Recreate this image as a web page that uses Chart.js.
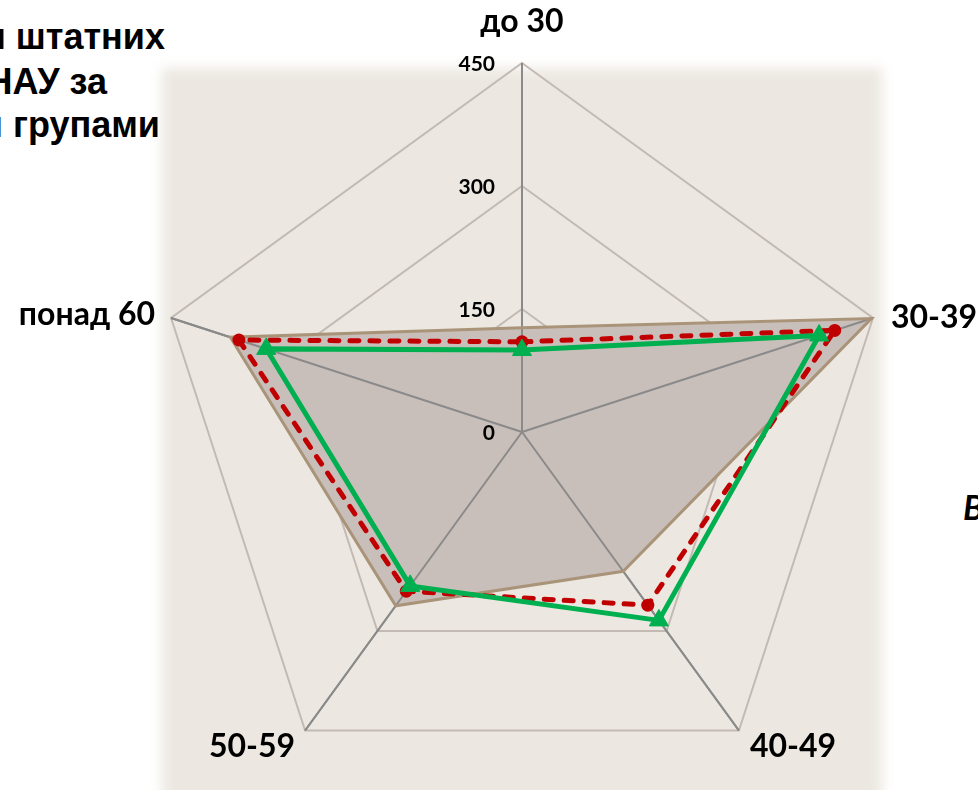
<!DOCTYPE html>
<html>
<head>
<meta charset="utf-8">
<script src="https://cdn.jsdelivr.net/npm/chart.js@4.4.0/dist/chart.umd.min.js"></script>
<style>
html, body { margin: 0; padding: 0; width: 978px; height: 790px; overflow: hidden; background: #fff; }
#panel { position: absolute; left: 162px; top: 68px; width: 720px; height: 770px; background: #ECE8E1; filter: blur(6px); }
#wrap { position: absolute; left: 0; top: 0; width: 978px; height: 820px; }
.title { position: absolute; font-family: "Liberation Sans", Arial, sans-serif; font-weight: bold; font-size: 36px; line-height: 44px; white-space: nowrap; color: #000; }
.side { position: absolute; left: 963px; top: 486px; font-family: Lato, sans-serif; font-weight: bold; font-style: italic; font-size: 34px; white-space: nowrap; }
</style>
</head>
<body>
<div id="panel"></div>
<div class="title" style="right: 813px; top: 15px;">Розподіл штатних</div>
<div class="title" style="right: 871px; top: 60px;">працівників НАУ за</div>
<div class="title" style="right: 818px; top: 103px;">віковими групами</div>
<div class="side">Вік</div>
<div id="wrap"><canvas id="ageChart" width="978" height="820"></canvas></div>
<script>
// вікові групи та значення (кількість осіб)
var ageGroups = ['до 30', '30-39', '40-49', '50-59', 'понад 60'];
var tickValues = [0, 150, 300, 450];
var areaValues = [127, 448, 210, 262, 374];
var dashValues = [110, 401, 261, 240, 363];
var lineValues = [100, 381, 284, 232, 328];

// де ставити підписи вершин відносно самої вершини
var labelPlacement = [
	{ dx: 0, dy: -41, align: 'center' },
	{ dx: 18, dy: 0, align: 'left' },
	{ dx: 11, dy: 16, align: 'left' },
	{ dx: -10, dy: 16, align: 'right' },
	{ dx: -16, dy: -3, align: 'right' }
];

// темні промені поверх заливки
var spokesOverFill = {
	id: 'spokesOverFill',
	beforeDatasetDraw: function(chart, args) {
		if (args.index !== 0) return;
		var r = chart.scales.r;
		var ctx = chart.ctx;
		ctx.save();
		ctx.strokeStyle = '#8A8A8A';
		ctx.lineWidth = 2;
		ctx.beginPath();
		for (var i = 0; i < ageGroups.length; i++) {
			var p = r.getPointPositionForValue(i, r.max);
			ctx.moveTo(r.xCenter, r.yCenter);
			ctx.lineTo(p.x, p.y);
		}
		ctx.stroke();
		ctx.restore();
	}
};

var textLabels = {
	id: 'textLabels',
	afterDraw: function(chart) {
		var r = chart.scales.r;
		var ctx = chart.ctx;
		ctx.save();
		ctx.fillStyle = '#000';
		ctx.textBaseline = 'middle';
		// шкала
		ctx.font = 'bold 21px Lato';
		ctx.textAlign = 'right';
		tickValues.forEach(function(v) {
			var y = r.yCenter - r.getDistanceFromCenterForValue(v);
			ctx.fillText(String(v), r.xCenter - 27, y + 1);
		});
		// підписи вершин
		ctx.font = 'bold 32px Lato';
		ageGroups.forEach(function(name, i) {
			var p = r.getPointPositionForValue(i, r.max);
			var pl = labelPlacement[i];
			ctx.textAlign = pl.align;
			ctx.fillText(name, p.x + pl.dx, p.y + pl.dy);
		});
		ctx.restore();
	}
};

var chartArea = document.getElementById('ageChart').getContext('2d');
var myChart = new Chart(chartArea, {
	type: 'radar',
	data: {
		labels: ageGroups,
		datasets: [{
			data: areaValues,
			backgroundColor: '#C9BFBA',
			borderColor: '#A99479',
			borderWidth: 3,
			pointRadius: 0,
			fill: true,
			order: 3
		}, {
			data: dashValues,
			borderColor: '#C00000',
			borderWidth: 5,
			borderDash: [9, 11],
			borderCapStyle: 'round',
			pointRadius: 6.5,
			pointBackgroundColor: '#C00000',
			pointBorderWidth: 0,
			fill: false,
			order: 2
		}, {
			data: lineValues,
			borderColor: '#00B050',
			borderWidth: 5,
			pointStyle: 'triangle',
			pointRadius: 11,
			pointBackgroundColor: '#00B050',
			pointBorderColor: '#00B050',
			pointBorderWidth: 1,
			fill: false,
			order: 1
		}]
	},
	options: {
		responsive: false,
		animation: false,
		layout: { padding: { left: 153, right: 87, top: 44, bottom: 0 } },
		plugins: {
			legend: { display: false },
			tooltip: { enabled: false }
		},
		scales: {
			r: {
				min: 0,
				max: 450,
				ticks: { display: false, stepSize: 150 },
				grid: { color: '#C2BAB3', lineWidth: 2 },
				angleLines: { color: '#8A8A8A', lineWidth: 2 },
				pointLabels: { display: false }
			}
		}
	},
	plugins: [spokesOverFill, textLabels]
});
</script>
</body>
</html>
